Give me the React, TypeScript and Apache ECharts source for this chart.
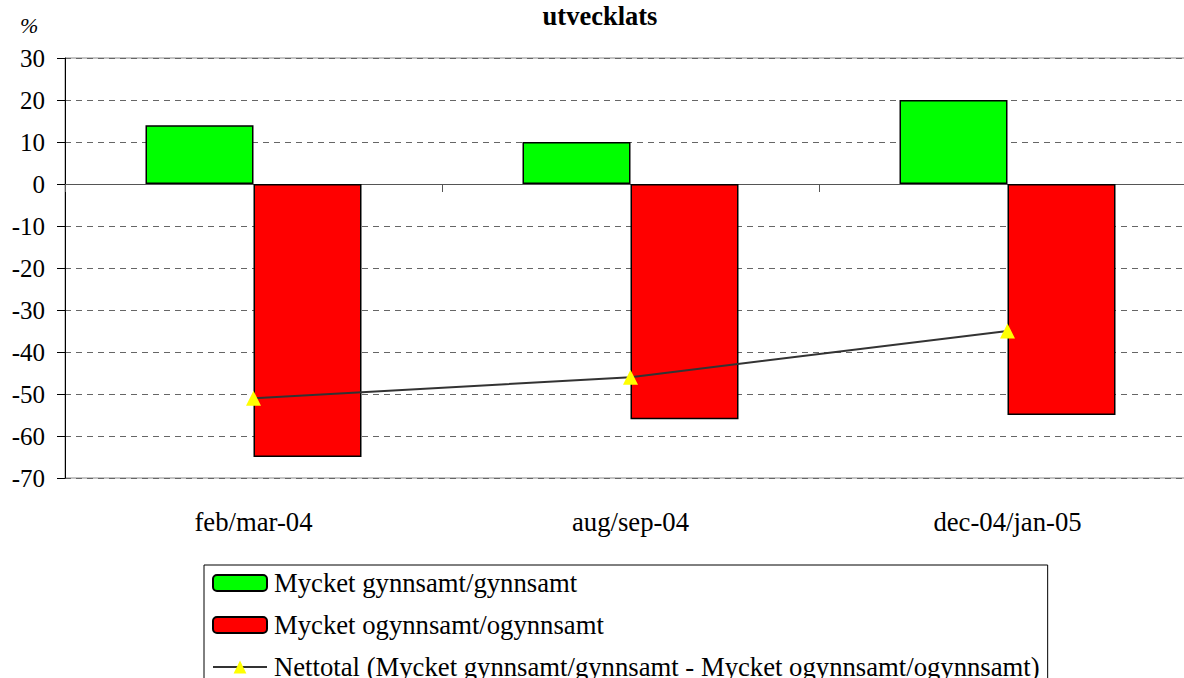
import React, { useEffect, useRef } from "react";
import * as echarts from "echarts";

const categories = ["feb/mar-04", "aug/sep-04", "dec-04/jan-05"];
const favourable = [14, 10, 20];
const unfavourable = [-65, -56, -55];
const net = [-51, -46, -35];
const seriesNames = [
  "Mycket gynnsamt/gynnsamt",
  "Mycket ogynnsamt/ogynnsamt",
  "Nettotal (Mycket gynnsamt/gynnsamt - Mycket ogynnsamt/ogynnsamt)",
];
const titleText = "utvecklats";
const unitText = "%";

const FONT = "'Liberation Serif', 'Times New Roman', serif";
const FS = 26.7;

export default function App() {
  const ref = useRef<HTMLDivElement>(null);
  useEffect(() => {
    const chart = echarts.init(ref.current!, null, { renderer: "svg" });
    chart.setOption({
      animation: false,
      textStyle: { fontFamily: FONT, color: "#000" },
      title: {
        text: titleText,
        left: 595,
        textAlign: "center",
        top: -3,
        textStyle: { fontFamily: FONT, fontWeight: "bold", fontSize: 26.5, color: "#000" },
      },
      graphic: [
        {
          type: "text",
          left: 20,
          top: 14,
          style: { text: unitText, font: `italic 22px ${FONT}`, fill: "#000" },
        },
      ],
      legend: {
        orient: "vertical",
        left: 204,
        top: 565,
        height: 200,
        padding: [4, 8, 4, 8],
        itemGap: 14,
        itemWidth: 54,
        itemHeight: 16,
        borderColor: "#000",
        borderWidth: 1,
        textStyle: { fontFamily: FONT, fontSize: FS, lineHeight: 28, color: "#000", padding: [0, 0, 0, 2] },
        data: seriesNames,
      },
      grid: {
        left: 65,
        width: 1131,
        top: 58,
        height: 420,
        outerBoundsMode: "none",
        containLabel: false,
        show: true,
        borderColor: "#888",
        borderWidth: 1,
      },
      xAxis: {
        type: "category",
        data: categories,
        position: "bottom",
        axisLine: { onZero: true, lineStyle: { color: "#555", width: 1 } },
        axisTick: { show: true, length: 8, inside: false, lineStyle: { color: "#555" } },
        axisLabel: {
          show: true,
          fontFamily: FONT,
          fontSize: FS,
          color: "#000",
          margin: 30,
        },
        splitLine: { show: false },
      },
      yAxis: {
        type: "value",
        min: -70,
        max: 30,
        interval: 10,
        axisLine: { show: true, lineStyle: { color: "#000", width: 1 } },
        axisTick: { show: true, length: 8, lineStyle: { color: "#000" } },
        axisLabel: { fontFamily: FONT, fontSize: 25, color: "#000", margin: 20 },
        splitLine: {
          show: true,
          lineStyle: { color: "#666", type: [6, 5], width: 1 },
        },
      },
      series: [
        {
          name: seriesNames[0],
          type: "bar",
          data: favourable,
          barWidth: 108,
          barGap: "0%",
          itemStyle: { color: "#00ff00", borderColor: "#000", borderWidth: 1.5 },
        },
        {
          name: seriesNames[1],
          type: "bar",
          data: unfavourable,
          barWidth: 108,
          barGap: "0%",
          itemStyle: { color: "#ff0000", borderColor: "#000", borderWidth: 1.5 },
        },
        {
          name: seriesNames[2],
          type: "line",
          data: net,
          symbol: "triangle",
          symbolSize: 15,
          lineStyle: { color: "#333", width: 2 },
          itemStyle: { color: "#ffff00", borderWidth: 0 },
          z: 5,
        },
      ],
    });
    return () => chart.dispose();
  }, []);
  return <div ref={ref} style={{ width: 1184, height: 678, position: "absolute", left: 0, top: 0 }} />;
}
